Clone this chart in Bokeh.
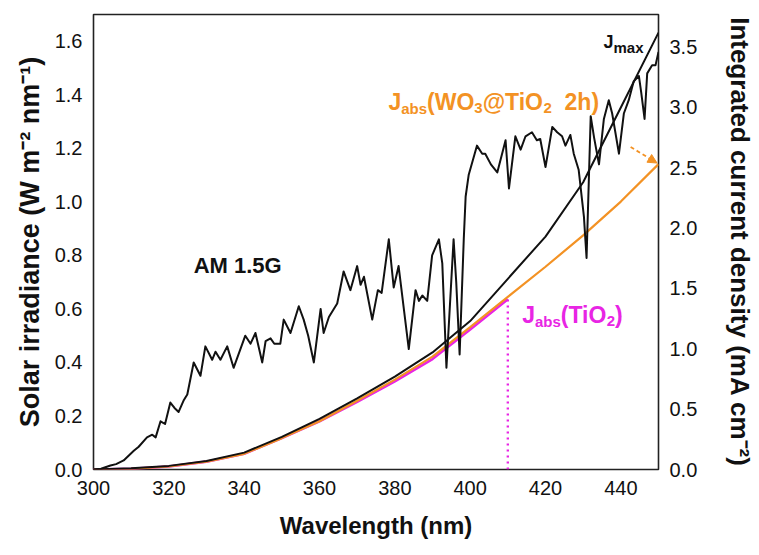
from bokeh.plotting import figure
from bokeh.models import (Range1d, LinearAxis, FixedTicker, PrintfTickFormatter,
                          Label, Arrow, NormalHead)
from bokeh.embed import file_html
from bokeh.resources import INLINE

# ---- data ----
spec_wl = [300, 302, 304.5, 306, 308, 310.7, 312, 314.2, 315.6, 316.5, 317.8, 319, 320.4, 321.5,
           322.6, 324, 324.9, 326.6, 328.4, 329.7, 331.5, 332.4, 333.7, 335.5, 337.2, 340.3,
           341.7, 343, 344.8, 345.7, 347, 348, 349.6, 350.5, 352.3, 354.5, 355.8, 357, 358.5,
           360.3, 361.1, 362.5, 363.8, 364.7, 366.4, 368.2, 370, 370.9, 371.8, 374, 375.5,
           376.5, 378.4, 379.7, 381, 383.7, 385.5, 386.4, 387.3, 388.6, 389.9, 391.7, 392.6,
           393.7, 395.6, 396.3, 397.2, 398.3, 398.8, 399.6, 401.8, 403.2, 404, 405.5, 407.2,
           409.4, 410.3, 412, 413.4, 414.7, 416.4, 417.7, 418.6, 420, 421.8, 423.1, 424.4,
           425.3, 426.6, 427.5, 428.8, 430.2, 430.9, 432, 432.9, 434.2, 435.5, 436.8, 437.7,
           439.5, 440.8, 442.1, 443.4, 444.8, 445.4, 446.3, 447, 448.3, 449.2, 450]
spec_irr = [0.0, 0.003, 0.015, 0.02, 0.034, 0.07, 0.085, 0.12, 0.13, 0.12, 0.18, 0.17, 0.25, 0.23,
            0.215, 0.26, 0.28, 0.40, 0.35, 0.46, 0.41, 0.44, 0.41, 0.46, 0.38, 0.50,
            0.47, 0.51, 0.40, 0.48, 0.49, 0.47, 0.47, 0.56, 0.51, 0.61, 0.56, 0.50, 0.40,
            0.60, 0.51, 0.57, 0.60, 0.62, 0.74, 0.67, 0.76, 0.69, 0.72, 0.56, 0.67,
            0.66, 0.86, 0.68, 0.76, 0.45, 0.67, 0.63, 0.65, 0.63, 0.80, 0.86, 0.77,
            0.38, 0.86, 0.70, 0.43, 0.86, 1.02, 1.10, 1.21, 1.18, 1.18, 1.14, 1.11,
            1.23, 1.05, 1.245, 1.195, 1.245, 1.26, 1.23, 1.235, 1.13, 1.28, 1.26, 1.245,
            1.21, 1.25, 1.18, 1.12, 0.945, 0.79, 1.32, 1.24, 1.14, 1.31, 1.38, 1.33,
            1.18, 1.33, 1.38, 1.45, 1.47, 1.41, 1.31, 1.48, 1.51, 1.51, 1.56]

j_wl = [300, 310, 320, 330, 340, 350, 360, 370, 380, 390, 400, 410, 420, 430, 440, 450]
j_max = [0, 0.01, 0.03, 0.07, 0.14, 0.27, 0.42, 0.59, 0.77, 0.97, 1.23, 1.58, 1.93, 2.38, 3.0, 3.62]
j_wo3 = [0, 0.005, 0.025, 0.065, 0.13, 0.26, 0.40, 0.57, 0.745, 0.935, 1.18, 1.43, 1.68, 1.94, 2.22, 2.53]
tio2_wl = [300, 310, 320, 330, 340, 350, 360, 370, 380, 390, 400, 410]
j_tio2 = [0, 0.005, 0.025, 0.065, 0.13, 0.26, 0.40, 0.56, 0.73, 0.915, 1.16, 1.41]
tio2_edge = 410

x_ticks = [300, 320, 340, 360, 380, 400, 420, 440]
left_ticks = [0.0, 0.2, 0.4, 0.6, 0.8, 1.0, 1.2, 1.4, 1.6]
right_ticks = [0.0, 0.5, 1.0, 1.5, 2.0, 2.5, 3.0, 3.5]

ORANGE = "#F39224"
MAGENTA = "#E825E4"
FONT = "Liberation Sans"

p = figure(width=759, height=555, output_backend="svg", toolbar_location=None,
           x_range=Range1d(300, 450), y_range=Range1d(0, 1.70),
           min_border_left=93, min_border_right=101, min_border_top=14, min_border_bottom=86)
p.extra_y_ranges = {"right": Range1d(0, 3.77)}
p.grid.visible = False
p.outline_line_color = "#222222"
p.outline_line_width = 1.6
p.background_fill_color = "white"
p.border_fill_color = "white"

raxis = LinearAxis(y_range_name="right")
p.add_layout(raxis, "right")

for ax in [p.xaxis[0], p.yaxis[0], raxis]:
    ax.axis_line_color = None
    ax.major_tick_line_color = None
    ax.minor_tick_line_color = None
    ax.major_tick_out = 0
    ax.major_tick_in = 0
    ax.major_label_text_font = FONT
    ax.major_label_text_font_size = "20px"
    ax.major_label_text_color = "#111111"
    ax.major_label_standoff = 11
    ax.axis_label_text_font = FONT
    ax.axis_label_text_font_size = "24px"
    ax.axis_label_text_font_style = "bold"
    ax.axis_label_text_color = "#111111"

p.xaxis[0].ticker = FixedTicker(ticks=x_ticks)
p.yaxis[0].ticker = FixedTicker(ticks=left_ticks)
p.yaxis[0].formatter = PrintfTickFormatter(format="%.1f")
raxis.ticker = FixedTicker(ticks=right_ticks)
raxis.formatter = PrintfTickFormatter(format="%.1f")

p.xaxis[0].axis_label = "Wavelength (nm)"
p.xaxis[0].axis_label_standoff = 14
p.yaxis[0].axis_label = "Solar irradiance (W m\u207b\u00b2 nm\u207b\u00b9)"
p.yaxis[0].axis_label_text_font_size = "27px"
p.yaxis[0].axis_label_standoff = 7
raxis.axis_label = "Integrated current density (mA cm\u207b\u00b2)"
raxis.axis_label_text_font_size = "26px"
raxis.axis_label_standoff = 25

# ---- curves ----
p.line(tio2_wl, j_tio2, y_range_name="right", line_color=MAGENTA, line_width=2.6)
p.line(j_wl, j_wo3, y_range_name="right", line_color=ORANGE, line_width=2.2)
p.line(j_wl, j_max, y_range_name="right", line_color="#111111", line_width=2.0)
p.line(spec_wl, spec_irr, line_color="#111111", line_width=2.0, line_join="round")
p.segment(x0=[tio2_edge], y0=[0], x1=[tio2_edge], y1=[j_tio2[-1]], y_range_name="right",
          line_color=MAGENTA, line_width=2.4, line_dash="2 4")

# dashed arrow pointing at the end of the WO3@TiO2 curve
p.add_layout(Arrow(end=NormalHead(size=9, fill_color=ORANGE, line_color=ORANGE),
                   x_start=442.6, y_start=1.205, x_end=449.6, y_end=1.145,
                   line_color=ORANGE, line_width=1.8, line_dash="4 3"))

# ---- rich text labels ----
W = {"J": .556, "a": .556, "b": .611, "s": .556, "(": .333, ")": .333, "W": .944, "O": .778,
     "3": .556, "@": .975, "T": .611, "i": .278, "2": .556, " ": .278, "h": .611, "m": .889,
     "x": .556}


def rich(x, y, pieces, color):
    off = 0.0
    for text, size, dy, gap in pieces:
        off += gap
        p.add_layout(Label(x=x, y=y, x_offset=off, y_offset=dy, text=text,
                           text_font=FONT, text_font_size=f"{size}px", text_font_style="bold",
                           text_color=color, text_baseline="alphabetic", text_align="left"))
        off += sum(W.get(c, .556) for c in text) * size


rich(435.4, 1.596, [("J", 18, 0, 0), ("max", 15, -5, 0)], "#111111")
rich(378.3, 1.372, [("J", 23, 0, 0), ("abs", 15, -6, 0), ("(WO", 23, 0, 0), ("3", 15, -6, 0),
                    ("@TiO", 23, 0, 0), ("2", 15, -6, 0), ("2h)", 23, 0, 12.8)], ORANGE)
rich(413.8, 0.576, [("J", 23, 0, 0), ("abs", 15, -6, 0), ("(TiO", 23, 0, 0), ("2", 15, -6, 0),
                    (")", 23, 0, 0)], MAGENTA)
p.add_layout(Label(x=326.6, y=0.763, text="AM 1.5G", text_font=FONT, text_font_size="22px",
                   text_font_style="bold", text_color="#111111", text_baseline="alphabetic"))

open("out.html", "w").write(file_html(p, INLINE))
